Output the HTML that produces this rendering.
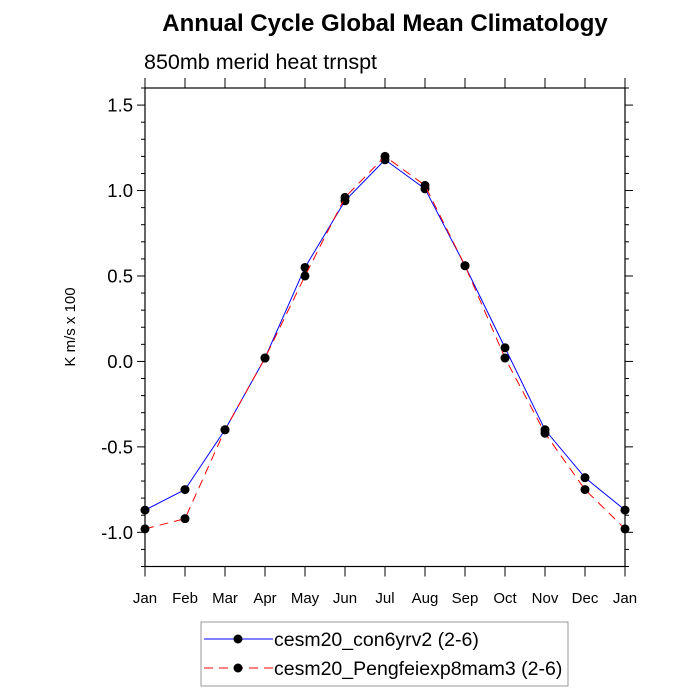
<!DOCTYPE html>
<html><head><meta charset="utf-8"><style>
body{margin:0;background:#fff;}
svg{display:block;font-family:"Liberation Sans",Arial,sans-serif;}
</style></head><body>
<svg id="chart" width="700" height="700">
<text x="385" y="31" text-anchor="middle" font-size="24" font-weight="bold">Annual Cycle Global Mean Climatology</text>
<text x="144" y="69" font-size="21.5">850mb merid heat trnspt</text>
<text transform="translate(75,327) rotate(-90)" text-anchor="middle" font-size="15">K m/s x 100</text>
<g id="plot"></g>
<g>
<rect x="201" y="622" width="367" height="64" fill="#fff" stroke="#999" stroke-width="1"/>
<g>
<line x1="204" y1="639" x2="273" y2="639" stroke="#0000ff" stroke-width="1"/>
<circle cx="238" cy="639" r="4.5" fill="#000"/>
<text x="274" y="646" font-size="19.5">cesm20_con6yrv2 (2-6)</text></g>
<g>
<line x1="204" y1="668" x2="273" y2="668" stroke="#ff0000" stroke-width="1" stroke-dasharray="9,6"/>
<circle cx="238" cy="668" r="4.5" fill="#000"/>
<text x="274" y="675" font-size="19.5">cesm20_Pengfeiexp8mam3 (2-6)</text></g>
</g>
</svg>
<script>
const months=["Jan","Feb","Mar","Apr","May","Jun","Jul","Aug","Sep","Oct","Nov","Dec","Jan"];
const con6yrv2=[-0.87,-0.75,-0.40,0.02,0.55,0.94,1.18,1.01,0.56,0.08,-0.40,-0.68,-0.87];
const pengfei=[-0.98,-0.92,-0.40,0.02,0.50,0.96,1.20,1.03,0.56,0.02,-0.42,-0.75,-0.98];
const yTicks=[-1.0,-0.5,0.0,0.5,1.0,1.5];
const yTickLabels=["-1.0","-0.5","0.0","0.5","1.0","1.5"];
const L=145,R=625,T=88,B=566.5,YMIN=-1.2,YMAX=1.6;
const NS="http://www.w3.org/2000/svg";
const g=document.getElementById('plot');
function x(i){return L+(R-L)*i/(months.length-1);}
function y(v){return B-(v-YMIN)/(YMAX-YMIN)*(B-T);}
function mk(t,a,p){const e=document.createElementNS(NS,t);for(const k in a)e.setAttribute(k,a[k]);(p||g).appendChild(e);return e;}
const frame=mk('rect',{x:L,y:T,width:R-L,height:B-T,fill:'none',stroke:'#000','stroke-width':1.2});


for(let v=-1.2;v<=1.6001;v+=0.1){
 const yy=y(v);const major=yTicks.some(t=>Math.abs(t-v)<1e-6);const len=major?8:4;
 const t1=mk('line',{x1:L-len,x2:L,y1:yy,y2:yy,stroke:'#000','stroke-width':1});
 
 
 const t2=mk('line',{x1:R,x2:R+len,y1:yy,y2:yy,stroke:'#000','stroke-width':1});
 
 
}
yTicks.forEach((v,i)=>{const t=mk('text',{x:L-12,y:y(v)+6.5,'text-anchor':'end','font-size':18.5});t.textContent=yTickLabels[i];
 
 });
months.forEach((m,i)=>{
 const a=mk('line',{x1:x(i),x2:x(i),y1:B,y2:B+10,stroke:'#000'});
 
 
 const b=mk('line',{x1:x(i),x2:x(i),y1:T-10,y2:T,stroke:'#000'});
 
 
 const t=mk('text',{x:x(i),y:603,'text-anchor':'middle','font-size':15});t.textContent=m;
 
 
});
function series(vals,color,dash,name){
 const pl=mk('polyline',{points:vals.map((v,i)=>x(i)+','+y(v)).join(' '),fill:'none',stroke:color,'stroke-width':1,'stroke-dasharray':dash});
 
 
 vals.forEach((v,i)=>{const c=mk('circle',{cx:x(i),cy:y(v),r:4.5,fill:'#000'});
  
  });
}
series(con6yrv2,'#0000ff','none','con6yrv2');
series(pengfei,'#ff0000','9,6','pengfeiexp8mam3');
</script>
</body></html>
